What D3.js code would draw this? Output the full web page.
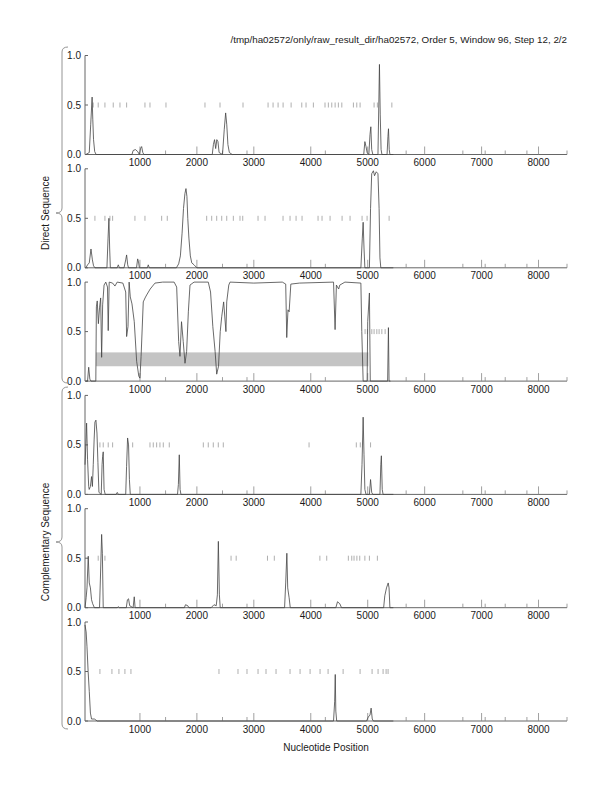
<!DOCTYPE html>
<html>
<head>
<meta charset="utf-8">
<script src="https://cdn.jsdelivr.net/npm/d3@7"></script>
<style>
  body { margin: 0; background: #fff; }
  text { font-family: 'Liberation Sans', Arial, sans-serif; font-size: 10px; fill: #1a1a1a; }
</style>
</head>
<body>
<div id="root"></div>
<script>
const width = 612;
const height = 792;

// Data: [nucleotide position, score]

const direct1 = [[50,0],[110,0.02],[135,0.3],[160,0.58],[172,0.35],[185,0.15],[205,0.03],[230,0],[860,0],[880,0.04],[920,0.05],[960,0.03],[990,0],[1010,0.06],[1030,0.08],[1050,0.02],[1070,0],[2270,0],[2290,0.1],[2310,0.15],[2330,0.06],[2350,0.15],[2370,0.13],[2390,0.02],[2450,0],[2480,0.25],[2505,0.42],[2525,0.3],[2545,0.1],[2570,0.02],[2620,0],[4930,0],[4950,0.13],[4970,0.08],[4990,0.02],[5020,0],[5040,0.2],[5055,0.28],[5070,0.05],[5090,0],[5180,0],[5195,0.5],[5206,0.91],[5220,0.4],[5235,0.05],[5250,0],[5340,0],[5355,0.18],[5365,0.26],[5378,0.05],[5390,0],[5450,0]];

const direct2 = [[50,0],[80,0.03],[110,0.05],[140,0.19],[165,0.08],[185,0.02],[210,0],[420,0],[440,0.3],[455,0.5],[468,0.2],[480,0],[600,0],[620,0.03],[640,0],[720,0],[750,0.08],[766,0.13],[785,0.03],[800,0],[940,0],[960,0.09],[975,0.06],[990,0],[1130,0],[1146,0.03],[1165,0],[1640,0],[1680,0.04],[1710,0.12],[1740,0.35],[1765,0.6],[1790,0.75],[1808,0.8],[1825,0.72],[1840,0.5],[1860,0.3],[1885,0.12],[1910,0.05],[1950,0.03],[2000,0],[4880,0],[4905,0.3],[4920,0.46],[4935,0.2],[4950,0],[5030,0],[5050,0.6],[5070,0.95],[5100,0.98],[5120,0.93],[5150,0.97],[5180,0.95],[5200,0.6],[5215,0.1],[5230,0],[5450,0]];

const direct3 = [[50,0],[80,0],[100,0.14],[120,0.02],[140,0],[225,0],[235,0.75],[250,0.81],[270,0.58],[290,0.74],[310,0.84],[327,0.24],[345,0.77],[370,0.97],[400,1.0],[430,0.95],[443,0.51],[460,1.0],[520,0.99],[561,0.96],[600,1.0],[700,0.99],[750,0.9],[766,0.45],[790,0.55],[810,1.0],[830,0.85],[860,0.78],[900,0.6],[942,0.2],[980,0.05],[1000,0.03],[1020,0.25],[1058,0.8],[1090,0.84],[1118,0.87],[1180,0.93],[1264,0.99],[1400,1.0],[1600,1.0],[1645,0.95],[1680,0.4],[1703,0.25],[1730,0.6],[1760,0.4],[1791,0.18],[1820,0.3],[1850,0.7],[1879,0.97],[1950,1.0],[2200,1.0],[2240,0.9],[2280,0.55],[2320,0.3],[2348,0.07],[2380,0.15],[2410,0.5],[2436,0.65],[2470,0.8],[2510,0.5],[2524,0.8],[2560,0.97],[2582,1.0],[3000,0.99],[3500,1.0],[3560,0.98],[3578,0.44],[3600,0.72],[3620,0.7],[3650,0.98],[3800,0.99],[4400,1.0],[4427,0.52],[4450,0.97],[4490,0.93],[4510,0.97],[4600,1.0],[4880,0.99],[4896,0.5],[4920,0],[4990,0],[5000,0.6],[5030,0.89],[5045,0],[5350,0],[5364,0.54],[5375,0],[5400,0]];

const comp1 = [[35,0.3],[50,0.5],[63,0.72],[80,0.35],[100,0.08],[109,0.05],[130,0.08],[150,0.18],[165,0.08],[180,0.3],[195,0.55],[209,0.73],[227,0.75],[245,0.62],[262,0.32],[280,0.02],[320,0],[335,0.3],[344,0.38],[355,0.43],[370,0.05],[390,0],[580,0],[602,0.02],[620,0],[750,0],[765,0.28],[783,0.57],[800,0.5],[815,0.15],[830,0],[1660,0],[1675,0.1],[1691,0.4],[1705,0.05],[1720,0],[4880,0],[4900,0.3],[4920,0.78],[4935,0.4],[4950,0.05],[4970,0],[5030,0],[5050,0.15],[5070,0.02],[5090,0],[5215,0],[5230,0.3],[5240,0.39],[5255,0.05],[5270,0],[5450,0]];

const comp2 = [[35,0],[55,0.1],[70,0.2],[92,0.52],[110,0.25],[130,0.2],[150,0.08],[170,0.04],[200,0],[290,0],[305,0.28],[327,0.74],[340,0.55],[355,0],[600,0],[620,0.01],[640,0],[760,0],[780,0.08],[800,0.09],[820,0.02],[880,0],[900,0.11],[915,0],[1780,0],[1800,0.03],[1840,0.02],[1860,0],[2250,0],[2300,0.03],[2340,0.02],[2360,0.13],[2377,0.67],[2395,0.13],[2410,0],[3540,0],[3560,0.25],[3580,0.55],[3595,0.2],[3620,0.1],[3640,0],[4440,0],[4470,0.06],[4510,0.04],[4540,0],[5280,0],[5300,0.12],[5330,0.2],[5360,0.25],[5375,0.2],[5390,0],[5450,0]];

const comp3 = [[35,0.97],[55,0.9],[70,0.75],[90,0.5],[110,0.3],[130,0.08],[150,0.02],[200,0.02],[250,0],[4400,0],[4420,0.2],[4430,0.47],[4440,0.1],[4455,0],[4980,0],[5010,0.04],[5040,0.06],[5060,0.13],[5080,0.02],[5100,0],[5450,0]];

// Site marks drawn at 0.5

const marks1 = [179,267,385,531,649,766,1088,1176,1457,2142,2406,2810,3250,3338,3426,3514,3655,3842,3917,4046,4250,4309,4369,4428,4485,4545,4749,4808,4866,5112,5170,5424];
const marks2 = [209,385,473,520,912,1088,1381,1480,2172,2260,2348,2436,2524,2640,2757,2805,3074,3197,3513,3636,3742,3847,4128,4198,4339,4550,4690,4901,4989,5376];
const marks3 = [4954,4995,5072,5112,5160,5200,5248,5306];
const marks4 = [297,355,443,520,872,1176,1234,1293,1351,1410,1515,2113,2200,2288,2376,2464,3970,4800,4870,5050];
const marks5 = [267,385,2600,2690,3240,3360,4160,4280,4660,4720,4760,4810,4860,4950,5030,5170];
const marks6 = [297,508,631,736,842,2388,2722,2880,3074,3214,3390,3636,3812,3988,4163,4304,4568,4866,5077,5182,5270,5323,5358];

// Shaded band on the third panel: [start, end, low, high]
const band3 = [227, 5013, 0.15, 0.29];

const xTicks = [1000, 2000, 3000, 4000, 5000, 6000, 7000, 8000];
const xMinorTicks = [1450, 2450, 2880, 4256, 5675, 6671, 7063, 7415, 7796, 8500];
const yTicks = [0, 0.5, 1];

const panels = [
  { line: direct1, marks: marks1 },
  { line: direct2, marks: marks2 },
  { line: direct3, marks: marks3, band: band3 },
  { line: comp1, marks: marks4 },
  { line: comp2, marks: marks5 },
  { line: comp3, marks: marks6 },
];

const title = '/tmp/ha02572/only/raw_result_dir/ha02572, Order 5, Window 96, Step 12, 2/2';

// Layout

const left = 85;
const right = 567;
const top0 = 55.5;
const step = 113.3;
const ph = 99;

const svg = d3
  .select('#root')
  .append('svg')
  .attr('width', width)
  .attr('height', height);

const x = d3.scaleLinear().domain([35, 8500]).range([left, right]);

svg
  .append('text')
  .attr('x', right)
  .attr('y', 43)
  .attr('text-anchor', 'end')
  .style('font-size', '9.8px')
  .text(title);

panels.forEach((p, i) => {
  const t = top0 + i * step;
  const y = d3.scaleLinear().domain([0, 1]).range([t + ph, t]);
  const g = svg.append('g');

  if (p.band) {
    g.append('rect')
      .attr('x', x(p.band[0]))
      .attr('width', x(p.band[1]) - x(p.band[0]))
      .attr('y', y(p.band[3]))
      .attr('height', y(p.band[2]) - y(p.band[3]))
      .attr('fill', '#c4c4c4');
  }

  // marks at 0.5
  g.append('g')
    .selectAll('line')
    .data(p.marks)
    .join('line')
    .attr('x1', (d) => x(d))
    .attr('x2', (d) => x(d))
    .attr('y1', y(0.5) - 2.5)
    .attr('y2', y(0.5) + 2.5)
    .attr('stroke', '#9a9a9a')
    .attr('stroke-width', 0.8);

  // axes
  const xAxis = g.append('g');
  xAxis
    .append('line')
    .attr('x1', left)
    .attr('x2', right)
    .attr('y1', y(0))
    .attr('y2', y(0))
    .attr('stroke', '#666');
  xAxis
    .selectAll('.major')
    .data(xTicks)
    .join('line')
    .attr('x1', (d) => x(d))
    .attr('x2', (d) => x(d))
    .attr('y1', y(0))
    .attr('y2', y(0) - 8)
    .attr('stroke', '#888')
    .attr('stroke-width', 0.8);
  xAxis
    .selectAll('.minor')
    .data(xMinorTicks)
    .join('line')
    .attr('x1', (d) => x(d))
    .attr('x2', (d) => x(d))
    .attr('y1', y(0))
    .attr('y2', y(0) - 4)
    .attr('stroke', '#888')
    .attr('stroke-width', 0.8);
  xAxis
    .selectAll('text')
    .data(xTicks)
    .join('text')
    .attr('x', (d) => x(d))
    .attr('y', y(0) + 11.5)
    .attr('text-anchor', 'middle')
    .text((d) => d);

  const yAxis = g.append('g');
  yAxis
    .append('line')
    .attr('x1', left)
    .attr('x2', left)
    .attr('y1', y(0))
    .attr('y2', y(1))
    .attr('stroke', '#666');
  yAxis
    .selectAll('line.t')
    .data(yTicks)
    .join('line')
    .attr('x1', left)
    .attr('x2', left + 3)
    .attr('y1', (d) => y(d))
    .attr('y2', (d) => y(d))
    .attr('stroke', '#666');
  yAxis
    .selectAll('text')
    .data(yTicks)
    .join('text')
    .attr('x', left - 4)
    .attr('y', (d) => y(d) + 3.5)
    .attr('text-anchor', 'end')
    .text((d) => d.toFixed(1));

  // score line
  g.append('path')
    .datum(p.line)
    .attr('fill', 'none')
    .attr('stroke', '#444')
    .attr('stroke-width', 0.8)
    .attr('d', d3.line().x((d) => x(d[0])).y((d) => y(d[1])));
});

// Braces and group labels

function brace(y0, y1, ym, xb, xp) {
  const r = 5;
  return `M${xb + 6},${y0} Q${xb},${y0} ${xb},${y0 + r}
          L${xb},${ym - r} Q${xb},${ym} ${xp},${ym}
          Q${xb},${ym} ${xb},${ym + r}
          L${xb},${y1 - r} Q${xb},${y1} ${xb + 6},${y1}`;
}

const groups = [
  { name: 'Direct Sequence', y0: 47, y1: 383, ym: 213 },
  { name: 'Complementary Sequence', y0: 387, y1: 729, ym: 542 },
];

groups.forEach((grp) => {
  svg
    .append('path')
    .attr('d', brace(grp.y0, grp.y1, grp.ym, 62, 56))
    .attr('fill', 'none')
    .attr('stroke', '#888')
    .attr('stroke-width', 0.9);
  svg
    .append('text')
    .attr('transform', `translate(49,${grp.ym}) rotate(-90)`)
    .attr('text-anchor', 'middle')
    .text(grp.name);
});

svg
  .append('text')
  .attr('x', (left + right) / 2)
  .attr('y', 751)
  .attr('text-anchor', 'middle')
  .text('Nucleotide Position');
</script>
</body>
</html>
